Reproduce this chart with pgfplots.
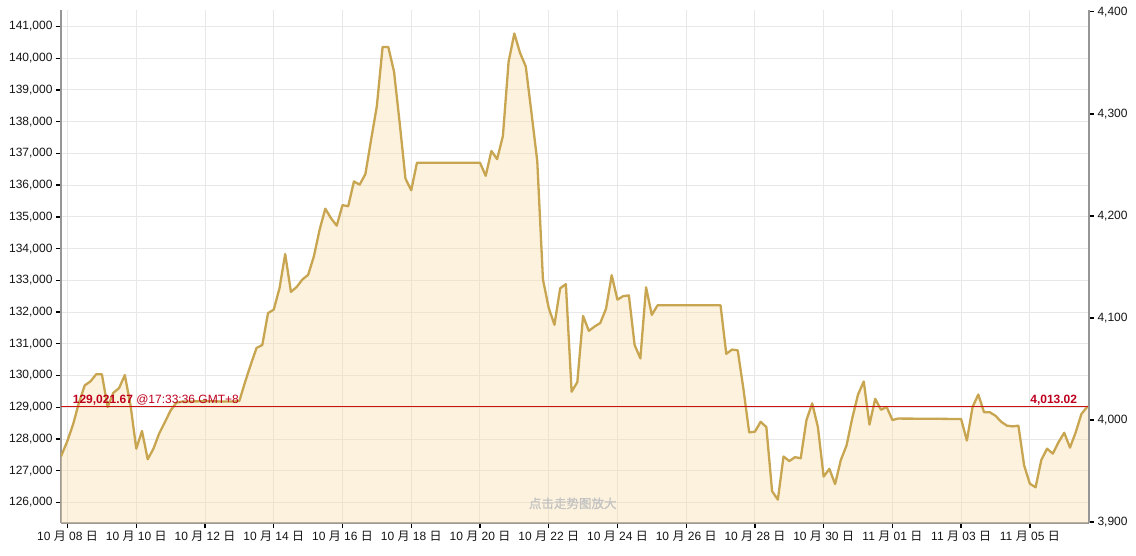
\documentclass[border=0pt]{standalone}
\usepackage{fontspec}
\setmainfont{Liberation Sans}
\newfontfamily\cjk{Noto Sans CJK SC}
\newfontfamily\cjkb[FakeBold=1.2]{Noto Sans CJK SC}
\usepackage{pgfplots}
\pgfplotsset{compat=1.18}
\definecolor{linegold}{RGB}{200,165,80}
\definecolor{fillcream}{RGB}{250,220,165}
\definecolor{redline}{RGB}{204,17,17}
\definecolor{redtext}{RGB}{190,0,30}
\definecolor{gridc}{RGB}{232,232,232}
\definecolor{axisc}{RGB}{150,150,150}
\definecolor{labc}{RGB}{20,20,20}
\definecolor{wmark}{RGB}{195,195,195}
\newcommand\md[2]{#1 {\cjk 月} #2 {\cjk 日}}
\pgfplotstableread{
x y
-0.19 127450
0.0 127950
0.167 128480
0.333 129150
0.5 129690
0.667 129815
0.833 130040
1.0 130040
1.167 129010
1.333 129458
1.5 129603
1.667 130015
1.833 129067
2.0 127696
2.167 128253
2.333 127361
2.5 127696
2.667 128175
2.833 128532
3.0 128900
3.167 129145
3.333 129180
4.0 129190
4.833 129180
5.0 129200
5.167 129800
5.333 130350
5.5 130870
5.667 130963
5.833 131967
6.0 132078
6.167 132747
6.333 133829
6.5 132636
6.667 132790
6.833 133026
7.0 133171
7.167 133751
7.333 134588
7.5 135257
7.667 134956
7.833 134722
8.0 135369
8.167 135335
8.333 136115
8.5 136015
8.667 136350
8.833 137431
9.0 138491
9.167 140353
9.333 140353
9.5 139573
9.667 137933
9.833 136205
10.0 135837
10.167 136707
11.0 136707
12.0 136707
12.167 136294
12.333 137075
12.5 136818
12.667 137543
12.833 139885
13.0 140777
13.167 140164
13.333 139740
13.5 138268
13.667 136762
13.833 133026
14.0 132134
14.167 131599
14.333 132747
14.5 132881
14.667 129491
14.833 129792
15.0 131878
15.167 131409
15.333 131543
15.5 131655
15.667 132101
15.833 133160
16.0 132391
16.167 132502
16.333 132525
16.5 130963
16.667 130540
16.833 132781
17.0 131911
17.167 132212
18.0 132212
19.0 132212
19.167 130684
19.333 130818
19.5 130796
19.667 129569
19.833 128209
20.0 128231
20.167 128543
20.333 128376
20.5 126357
20.667 126090
20.833 127450
21.0 127305
21.167 127428
21.333 127394
21.5 128599
21.667 129123
21.833 128376
22.0 126815
22.167 127060
22.333 126580
22.5 127339
22.667 127800
22.833 128660
23.0 129400
23.167 129815
23.333 128454
23.5 129268
23.667 128922
23.833 129012
24.0 128599
24.167 128644
25.0 128640
26.0 128630
26.167 127952
26.333 129012
26.5 129402
26.667 128844
26.833 128844
27.0 128733
27.167 128543
27.333 128421
27.5 128398
27.667 128421
27.833 127172
28.0 126592
28.167 126480
28.333 127339
28.5 127696
28.667 127539
28.833 127897
29.0 128198
29.167 127729
29.333 128209
29.5 128789
29.667 129012
29.72 129022
}\btcdata
\begin{document}
\begin{tikzpicture}[x=1pt,y=1pt]
\useasboundingbox (0,0) rectangle (1136,555);
\begin{axis}[
  at={(61pt,32pt)}, anchor=south west,
  scale only axis, width=1028pt, height=512.5pt,
  xmin=-0.19, xmax=29.72, ymin=125354, ymax=141502,
  axis x line*=bottom, axis y line*=left,
  axis line style={draw=axisc, line width=2pt, -},
  xtick={0,2,...,28},
  xticklabels={\md{10}{08},\md{10}{10},\md{10}{12},\md{10}{14},\md{10}{16},\md{10}{18},\md{10}{20},\md{10}{22},\md{10}{24},\md{10}{26},\md{10}{28},\md{10}{30},\md{11}{01},\md{11}{03},\md{11}{05}},
  ytick={126000,127000,...,141000},
  scaled y ticks=false,
  yticklabel style={/pgf/number format/.cd, fixed, 1000 sep={,}, assume math mode=true},
  ticklabel style={font=\fontsize{12}{14}\selectfont, text=labc},
  xtick align=outside, ytick align=outside,
  major tick length=5pt,
  tick style={black, line width=1.3pt},
  xmajorgrids, ymajorgrids,
  grid style={gridc, line width=1pt},
  clip=true,
]
\addplot[draw=none, fill=fillcream, fill opacity=0.38] table {\btcdata} \closedcycle;
\addplot[linegold, line width=2.3pt, line join=round] table {\btcdata};
\addplot[redline, line width=1.8pt] coordinates {(-0.19,129021.67) (29.72,129021.67)};
\node[anchor=base west, text=redtext, font=\fontsize{12}{14}\selectfont, inner sep=0pt, yshift=3.5pt] at (axis cs:0.15,129021.67) {\textbf{129,021.67} @17:33:36 GMT+8};
\node[anchor=base east, text=redtext, font=\fontsize{12}{14}\selectfont\bfseries, inner sep=0pt, yshift=3.5pt] at (axis cs:29.38,129021.67) {4,013.02};
\node[text=wmark, font=\cjkb\fontsize{12.5}{14}\selectfont] at (axis cs:14.70,125971) {点击走势图放大};
\end{axis}
\begin{axis}[
  at={(61pt,32pt)}, anchor=south west,
  scale only axis, width=1028pt, height=512.5pt,
  xmin=-0.19, xmax=29.72, ymin=3899, ymax=4401.3,
  axis x line=none, axis y line*=right,
  axis line style={draw=axisc, line width=2pt, -},
  ytick={3900,4000,...,4400},
  scaled y ticks=false,
  yticklabel style={/pgf/number format/.cd, fixed, 1000 sep={,}, assume math mode=true},
  ticklabel style={font=\fontsize{12}{14}\selectfont, text=labc},
  ytick align=outside,
  major tick length=5pt,
  tick style={black, line width=1.3pt},
]
\end{axis}
\end{tikzpicture}
\end{document}
